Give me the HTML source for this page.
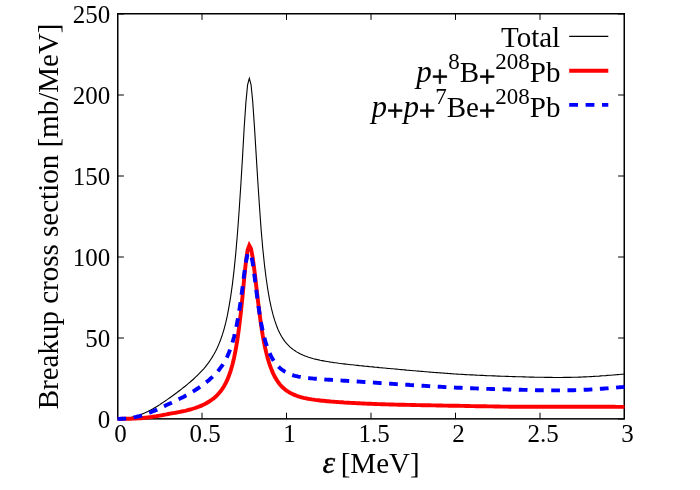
<!DOCTYPE html>
<html><head><meta charset="utf-8"><title>Breakup cross section</title>
<style>html,body{margin:0;padding:0;background:#fff;overflow:hidden}svg{display:block;will-change:transform}text{font-family:"Liberation Serif",serif;fill:#000}</style>
</head><body>
<svg width="700" height="490" viewBox="0 0 700 490">
<rect x="0" y="0" width="700" height="490" fill="#fff"/>
<path d="M117.50,418.9v-6.2M117.50,13.7v6.2M202.00,418.9v-6.2M202.00,13.7v6.2M286.50,418.9v-6.2M286.50,13.7v6.2M371.00,418.9v-6.2M371.00,13.7v6.2M455.50,418.9v-6.2M455.50,13.7v6.2M540.00,418.9v-6.2M540.00,13.7v6.2M624.50,418.9v-6.2M624.50,13.7v6.2M117.7,419.00h6.2M624.3,419.00h-6.2M117.7,338.00h6.2M624.3,338.00h-6.2M117.7,257.00h6.2M624.3,257.00h-6.2M117.7,176.00h6.2M624.3,176.00h-6.2M117.7,95.00h6.2M624.3,95.00h-6.2M117.7,14.00h6.2M624.3,14.00h-6.2" stroke="#000" stroke-width="1" fill="none"/>
<rect x="117.75" y="13.75" width="506.5" height="405.1" fill="none" stroke="#000" stroke-width="1.5"/>
<text x="120.5" y="441.7" font-size="25" text-anchor="middle" font-family="Liberation Serif, serif">0</text>
<text x="205.0" y="441.7" font-size="25" text-anchor="middle" font-family="Liberation Serif, serif">0.5</text>
<text x="289.5" y="441.7" font-size="25" text-anchor="middle" font-family="Liberation Serif, serif">1</text>
<text x="374.0" y="441.7" font-size="25" text-anchor="middle" font-family="Liberation Serif, serif">1.5</text>
<text x="458.5" y="441.7" font-size="25" text-anchor="middle" font-family="Liberation Serif, serif">2</text>
<text x="543.0" y="441.7" font-size="25" text-anchor="middle" font-family="Liberation Serif, serif">2.5</text>
<text x="627.5" y="441.7" font-size="25" text-anchor="middle" font-family="Liberation Serif, serif">3</text>
<text x="110.2" y="427.6" font-size="25" text-anchor="end" font-family="Liberation Serif, serif">0</text>
<text x="110.2" y="346.6" font-size="25" text-anchor="end" font-family="Liberation Serif, serif">50</text>
<text x="110.2" y="265.6" font-size="25" text-anchor="end" font-family="Liberation Serif, serif">100</text>
<text x="110.2" y="184.6" font-size="25" text-anchor="end" font-family="Liberation Serif, serif">150</text>
<text x="110.2" y="103.6" font-size="25" text-anchor="end" font-family="Liberation Serif, serif">200</text>
<text x="110.2" y="22.6" font-size="25" text-anchor="end" font-family="Liberation Serif, serif">250</text>
<polyline points="117.5,418.9 119.2,418.8 120.9,418.7 122.6,418.6 124.3,418.4 126.0,418.2 127.6,418.0 129.3,417.7 131.0,417.4 132.7,417.0 134.4,416.6 136.1,416.2 137.8,415.7 139.5,415.1 141.2,414.5 142.8,413.8 144.5,413.1 146.2,412.3 147.9,411.5 149.6,410.6 151.3,409.7 153.0,408.8 154.7,407.8 156.4,406.8 158.1,405.7 159.8,404.6 161.4,403.5 163.1,402.4 164.8,401.3 166.5,400.1 168.2,398.9 169.9,397.7 171.6,396.5 173.3,395.3 175.0,394.0 176.7,392.8 178.3,391.5 180.0,390.2 181.7,388.9 183.4,387.5 185.1,386.2 186.8,384.8 188.5,383.4 190.2,382.0 191.9,380.5 193.6,379.0 195.2,377.4 196.9,375.8 198.6,374.2 200.3,372.4 202.0,370.6 203.7,368.8 205.4,366.8 207.1,364.6 208.8,362.4 210.4,360.0 212.1,357.4 213.8,354.5 215.5,351.4 217.2,348.0 218.9,344.1 220.6,339.8 222.3,334.9 224.0,329.3 225.7,322.9 227.4,315.4 229.0,306.7 230.7,296.4 232.4,284.3 234.1,269.9 235.8,252.9 237.5,233.0 239.2,209.8 240.9,183.7 242.6,155.6 244.2,127.3 245.9,102.4 247.6,84.8 249.3,78.3 251.0,84.3 252.7,101.4 254.4,125.9 256.1,153.6 257.8,181.3 259.5,206.8 261.1,229.4 262.8,248.7 264.5,265.1 266.2,278.8 267.9,290.2 269.6,299.8 271.3,307.9 273.0,314.7 274.7,320.4 276.4,325.3 278.0,329.5 279.7,333.1 281.4,336.2 283.1,338.9 284.8,341.3 286.5,343.4 288.2,345.2 289.9,346.9 291.6,348.3 293.3,349.6 295.0,350.8 296.6,351.9 298.3,352.8 300.0,353.7 301.7,354.5 303.4,355.3 305.1,356.0 306.8,356.6 308.5,357.2 310.2,357.7 311.9,358.2 313.5,358.7 315.2,359.1 316.9,359.5 318.6,359.9 320.3,360.3 322.0,360.6 323.7,360.9 325.4,361.2 327.1,361.5 328.8,361.8 330.4,362.1 332.1,362.3 333.8,362.6 335.5,362.8 337.2,363.0 338.9,363.3 340.6,363.5 342.3,363.7 344.0,363.9 345.6,364.1 347.3,364.3 349.0,364.5 350.7,364.7 352.4,364.8 354.1,365.0 355.8,365.2 357.5,365.4 359.2,365.6 360.9,365.7 362.5,365.9 364.2,366.1 365.9,366.2 367.6,366.4 369.3,366.6 371.0,366.7 372.7,366.9 374.4,367.1 376.1,367.2 377.8,367.4 379.4,367.6 381.1,367.7 382.8,367.9 384.5,368.0 386.2,368.2 387.9,368.4 389.6,368.5 391.3,368.7 393.0,368.8 394.7,369.0 396.3,369.1 398.0,369.3 399.7,369.5 401.4,369.6 403.1,369.8 404.8,369.9 406.5,370.1 408.2,370.2 409.9,370.4 411.6,370.5 413.2,370.7 414.9,370.8 416.6,371.0 418.3,371.1 420.0,371.3 421.7,371.4 423.4,371.5 425.1,371.7 426.8,371.8 428.5,372.0 430.2,372.1 431.8,372.2 433.5,372.4 435.2,372.5 436.9,372.6 438.6,372.8 440.3,372.9 442.0,373.0 443.7,373.1 445.4,373.3 447.1,373.4 448.7,373.5 450.4,373.6 452.1,373.7 453.8,373.9 455.5,374.0 457.2,374.1 458.9,374.2 460.6,374.3 462.3,374.4 463.9,374.5 465.6,374.6 467.3,374.7 469.0,374.8 470.7,374.9 472.4,374.9 474.1,375.0 475.8,375.1 477.5,375.2 479.2,375.3 480.8,375.4 482.5,375.4 484.2,375.5 485.9,375.6 487.6,375.7 489.3,375.7 491.0,375.8 492.7,375.9 494.4,375.9 496.1,376.0 497.8,376.1 499.4,376.1 501.1,376.2 502.8,376.2 504.5,376.3 506.2,376.4 507.9,376.4 509.6,376.5 511.3,376.5 513.0,376.6 514.7,376.6 516.3,376.7 518.0,376.7 519.7,376.8 521.4,376.8 523.1,376.9 524.8,376.9 526.5,377.0 528.2,377.0 529.9,377.1 531.5,377.1 533.2,377.1 534.9,377.2 536.6,377.2 538.3,377.2 540.0,377.3 541.7,377.3 543.4,377.3 545.1,377.4 546.8,377.4 548.5,377.4 550.1,377.4 551.8,377.4 553.5,377.5 555.2,377.5 556.9,377.5 558.6,377.5 560.3,377.5 562.0,377.5 563.7,377.4 565.3,377.4 567.0,377.4 568.7,377.4 570.4,377.4 572.1,377.3 573.8,377.3 575.5,377.2 577.2,377.2 578.9,377.1 580.6,377.1 582.2,377.0 583.9,376.9 585.6,376.9 587.3,376.8 589.0,376.7 590.7,376.6 592.4,376.5 594.1,376.4 595.8,376.3 597.5,376.2 599.2,376.1 600.8,375.9 602.5,375.8 604.2,375.7 605.9,375.6 607.6,375.4 609.3,375.3 611.0,375.2 612.7,375.0 614.4,374.9 616.0,374.7 617.7,374.6 619.4,374.5 621.1,374.3 622.8,374.2 624.5,374.0" fill="none" stroke="#000" stroke-width="1.1" stroke-linejoin="miter"/>
<polyline points="117.5,418.9 119.2,418.9 120.9,418.9 122.6,418.8 124.3,418.8 126.0,418.8 127.6,418.8 129.3,418.7 131.0,418.7 132.7,418.6 134.4,418.6 136.1,418.5 137.8,418.4 139.5,418.3 141.2,418.2 142.8,418.0 144.5,417.8 146.2,417.7 147.9,417.4 149.6,417.2 151.3,417.0 153.0,416.7 154.7,416.4 156.4,416.2 158.1,415.9 159.8,415.6 161.4,415.3 163.1,415.0 164.8,414.7 166.5,414.4 168.2,414.0 169.9,413.7 171.6,413.4 173.3,413.1 175.0,412.8 176.7,412.5 178.3,412.2 180.0,411.8 181.7,411.5 183.4,411.1 185.1,410.8 186.8,410.4 188.5,409.9 190.2,409.5 191.9,409.0 193.6,408.5 195.2,408.0 196.9,407.4 198.6,406.8 200.3,406.1 202.0,405.4 203.7,404.6 205.4,403.7 207.1,402.8 208.8,401.8 210.4,400.7 212.1,399.5 213.8,398.2 215.5,396.8 217.2,395.1 218.9,393.3 220.6,391.3 222.3,388.9 224.0,386.3 225.7,383.2 227.4,379.7 229.0,375.5 230.7,370.6 232.4,364.7 234.1,357.7 235.8,349.2 237.5,338.9 239.2,326.6 240.9,312.1 242.6,295.6 244.2,278.2 245.9,261.9 247.6,250.0 249.3,245.5 251.0,248.6 252.7,257.5 254.4,270.3 256.1,284.8 257.8,299.4 259.5,313.1 261.1,325.2 262.8,335.8 264.5,344.8 266.2,352.4 267.9,358.9 269.6,364.4 271.3,369.1 273.0,373.1 274.7,376.5 276.4,379.4 278.0,382.0 279.7,384.2 281.4,386.1 283.1,387.8 284.8,389.3 286.5,390.6 288.2,391.7 289.9,392.7 291.6,393.6 293.3,394.4 295.0,395.1 296.6,395.8 298.3,396.4 300.0,396.9 301.7,397.3 303.4,397.8 305.1,398.1 306.8,398.5 308.5,398.8 310.2,399.1 311.9,399.4 313.5,399.6 315.2,399.9 316.9,400.1 318.6,400.3 320.3,400.5 322.0,400.7 323.7,400.8 325.4,401.0 327.1,401.2 328.8,401.3 330.4,401.5 332.1,401.6 333.8,401.7 335.5,401.9 337.2,402.0 338.9,402.1 340.6,402.2 342.3,402.3 344.0,402.5 345.6,402.6 347.3,402.7 349.0,402.8 350.7,402.9 352.4,403.0 354.1,403.0 355.8,403.1 357.5,403.2 359.2,403.3 360.9,403.4 362.5,403.5 364.2,403.5 365.9,403.6 367.6,403.7 369.3,403.8 371.0,403.8 372.7,403.9 374.4,404.0 376.1,404.0 377.8,404.1 379.4,404.1 381.1,404.2 382.8,404.2 384.5,404.3 386.2,404.4 387.9,404.4 389.6,404.5 391.3,404.5 393.0,404.5 394.7,404.6 396.3,404.6 398.0,404.7 399.7,404.7 401.4,404.8 403.1,404.8 404.8,404.8 406.5,404.9 408.2,404.9 409.9,404.9 411.6,405.0 413.2,405.0 414.9,405.0 416.6,405.1 418.3,405.1 420.0,405.1 421.7,405.2 423.4,405.2 425.1,405.2 426.8,405.3 428.5,405.3 430.2,405.3 431.8,405.4 433.5,405.4 435.2,405.4 436.9,405.5 438.6,405.5 440.3,405.5 442.0,405.5 443.7,405.6 445.4,405.6 447.1,405.6 448.7,405.7 450.4,405.7 452.1,405.7 453.8,405.8 455.5,405.8 457.2,405.8 458.9,405.8 460.6,405.9 462.3,405.9 463.9,405.9 465.6,406.0 467.3,406.0 469.0,406.0 470.7,406.1 472.4,406.1 474.1,406.1 475.8,406.2 477.5,406.2 479.2,406.2 480.8,406.2 482.5,406.3 484.2,406.3 485.9,406.3 487.6,406.4 489.3,406.4 491.0,406.4 492.7,406.4 494.4,406.5 496.1,406.5 497.8,406.5 499.4,406.5 501.1,406.6 502.8,406.6 504.5,406.6 506.2,406.6 507.9,406.6 509.6,406.7 511.3,406.7 513.0,406.7 514.7,406.7 516.3,406.7 518.0,406.7 519.7,406.7 521.4,406.7 523.1,406.8 524.8,406.8 526.5,406.8 528.2,406.8 529.9,406.8 531.5,406.8 533.2,406.8 534.9,406.8 536.6,406.8 538.3,406.8 540.0,406.8 541.7,406.8 543.4,406.8 545.1,406.8 546.8,406.7 548.5,406.7 550.1,406.7 551.8,406.7 553.5,406.7 555.2,406.7 556.9,406.7 558.6,406.7 560.3,406.7 562.0,406.7 563.7,406.7 565.3,406.7 567.0,406.7 568.7,406.7 570.4,406.7 572.1,406.7 573.8,406.7 575.5,406.7 577.2,406.7 578.9,406.7 580.6,406.7 582.2,406.7 583.9,406.7 585.6,406.7 587.3,406.7 589.0,406.7 590.7,406.7 592.4,406.7 594.1,406.7 595.8,406.7 597.5,406.7 599.2,406.7 600.8,406.7 602.5,406.7 604.2,406.8 605.9,406.8 607.6,406.8 609.3,406.8 611.0,406.8 612.7,406.8 614.4,406.8 616.0,406.9 617.7,406.9 619.4,406.9 621.1,406.9 622.8,406.9 624.5,406.9" fill="none" stroke="#ff0000" stroke-width="3.9" stroke-linejoin="miter" stroke-miterlimit="10"/>
<polyline points="117.5,418.9 119.2,418.9 120.9,418.8 122.6,418.7 124.3,418.6 126.0,418.5 127.6,418.3 129.3,418.1 131.0,417.8 132.7,417.5 134.4,417.2 136.1,416.9 137.8,416.5 139.5,416.1 141.2,415.6 142.8,415.1 144.5,414.6 146.2,414.0 147.9,413.4 149.6,412.7 151.3,412.0 153.0,411.3 154.7,410.6 156.4,409.9 158.1,409.1 159.8,408.3 161.4,407.5 163.1,406.7 164.8,405.9 166.5,405.1 168.2,404.3 169.9,403.5 171.6,402.7 173.3,401.9 175.0,401.1 176.7,400.3 178.3,399.4 180.0,398.6 181.7,397.7 183.4,396.9 185.1,396.0 186.8,395.1 188.5,394.1 190.2,393.2 191.9,392.2 193.6,391.2 195.2,390.1 196.9,389.0 198.6,387.9 200.3,386.7 202.0,385.5 203.7,384.3 205.4,383.0 207.1,381.6 208.8,380.2 210.4,378.7 212.1,377.2 213.8,375.5 215.5,373.8 217.2,371.9 218.9,369.9 220.6,367.7 222.3,365.3 224.0,362.6 225.7,359.7 227.4,356.3 229.0,352.4 230.7,348.0 232.4,342.8 234.1,336.7 235.8,329.5 237.5,321.0 239.2,311.1 240.9,299.6 242.6,286.9 244.2,273.9 245.9,262.1 247.6,253.6 249.3,250.5" fill="none" stroke="#0000ff" stroke-width="3.9" stroke-dasharray="8.699 7.513" stroke-linejoin="miter"/>
<polyline points="249.3,250.5 251.0,253.9 252.7,262.9 254.4,275.3 256.1,288.8 257.8,301.7 259.5,313.3 261.1,323.1 262.8,331.5 264.5,338.4 266.2,344.2 267.9,349.1 269.6,353.2 271.3,356.6 273.0,359.6 274.7,362.1 276.4,364.3 278.0,366.2 279.7,367.9 281.4,369.3 283.1,370.5 284.8,371.6 286.5,372.5 288.2,373.4 289.9,374.1 291.6,374.7 293.3,375.3 295.0,375.8 296.6,376.2 298.3,376.6 300.0,376.9 301.7,377.2 303.4,377.5 305.1,377.7 306.8,377.9 308.5,378.1 310.2,378.3 311.9,378.4 313.5,378.6 315.2,378.7 316.9,378.8 318.6,379.0 320.3,379.1 322.0,379.2 323.7,379.3 325.4,379.5 327.1,379.6 328.8,379.7 330.4,379.8 332.1,379.9 333.8,380.0 335.5,380.1 337.2,380.2 338.9,380.3 340.6,380.4 342.3,380.6 344.0,380.7 345.6,380.8 347.3,380.9 349.0,381.0 350.7,381.1 352.4,381.2 354.1,381.3 355.8,381.4 357.5,381.5 359.2,381.6 360.9,381.7 362.5,381.9 364.2,382.0 365.9,382.1 367.6,382.2 369.3,382.3 371.0,382.4 372.7,382.5 374.4,382.6 376.1,382.7 377.8,382.9 379.4,383.0 381.1,383.1 382.8,383.2 384.5,383.3 386.2,383.4 387.9,383.5 389.6,383.6 391.3,383.7 393.0,383.9 394.7,384.0 396.3,384.1 398.0,384.2 399.7,384.3 401.4,384.4 403.1,384.5 404.8,384.6 406.5,384.7 408.2,384.8 409.9,385.0 411.6,385.1 413.2,385.2 414.9,385.3 416.6,385.4 418.3,385.5 420.0,385.6 421.7,385.7 423.4,385.8 425.1,385.9 426.8,386.0 428.5,386.1 430.2,386.2 431.8,386.3 433.5,386.4 435.2,386.5 436.9,386.6 438.6,386.7 440.3,386.8 442.0,386.9 443.7,387.0 445.4,387.1 447.1,387.2 448.7,387.2 450.4,387.3 452.1,387.4 453.8,387.5 455.5,387.6 457.2,387.7 458.9,387.7 460.6,387.8 462.3,387.9 463.9,388.0 465.6,388.0 467.3,388.1 469.0,388.2 470.7,388.2 472.4,388.3 474.1,388.4 475.8,388.4 477.5,388.5 479.2,388.6 480.8,388.6 482.5,388.7 484.2,388.7 485.9,388.8 487.6,388.9 489.3,388.9 491.0,389.0 492.7,389.0 494.4,389.1 496.1,389.1 497.8,389.2 499.4,389.2 501.1,389.3 502.8,389.3 504.5,389.4 506.2,389.4 507.9,389.5 509.6,389.5 511.3,389.6 513.0,389.6 514.7,389.6 516.3,389.7 518.0,389.7 519.7,389.8 521.4,389.8 523.1,389.9 524.8,389.9 526.5,389.9 528.2,390.0 529.9,390.0 531.5,390.1 533.2,390.1 534.9,390.1 536.6,390.2 538.3,390.2 540.0,390.2 541.7,390.3 543.4,390.3 545.1,390.3 546.8,390.3 548.5,390.3 550.1,390.4 551.8,390.4 553.5,390.4 555.2,390.4 556.9,390.4 558.6,390.4 560.3,390.4 562.0,390.4 563.7,390.4 565.3,390.3 567.0,390.3 568.7,390.3 570.4,390.3 572.1,390.2 573.8,390.2 575.5,390.1 577.2,390.1 578.9,390.0 580.6,390.0 582.2,389.9 583.9,389.8 585.6,389.7 587.3,389.7 589.0,389.6 590.7,389.5 592.4,389.4 594.1,389.3 595.8,389.2 597.5,389.0 599.2,388.9 600.8,388.8 602.5,388.7 604.2,388.5 605.9,388.4 607.6,388.3 609.3,388.1 611.0,388.0 612.7,387.8 614.4,387.7 616.0,387.6 617.7,387.4 619.4,387.3 621.1,387.1 622.8,387.0 624.5,386.8" fill="none" stroke="#0000ff" stroke-width="3.9" stroke-dasharray="8.711 7.523" stroke-dashoffset="8.584" stroke-linejoin="miter"/>
<text x="560.2" y="46.5" font-size="29" text-anchor="end" font-family="Liberation Serif, serif">Total</text>
<text x="560.5" y="82.4" font-size="29" text-anchor="end" font-family="Liberation Serif, serif"><tspan dy="0" font-style="italic" font-size="31">p</tspan><tspan dy="3.3" stroke="#000" stroke-width="0.8">+</tspan><tspan dy="-16.60" font-size="23">8</tspan><tspan dy="13.3">B</tspan><tspan dy="3.3" stroke="#000" stroke-width="0.8">+</tspan><tspan dy="-16.60" font-size="23">208</tspan><tspan dy="13.3">Pb</tspan></text>
<text x="560.5" y="117" font-size="29" text-anchor="end" font-family="Liberation Serif, serif"><tspan dy="0" font-style="italic" font-size="31">p</tspan><tspan dy="3.3" stroke="#000" stroke-width="0.8">+</tspan><tspan dy="-3.3" font-style="italic" font-size="31">p</tspan><tspan dy="3.3" stroke="#000" stroke-width="0.8">+</tspan><tspan dy="-16.60" font-size="23">7</tspan><tspan dy="13.3">Be</tspan><tspan dy="3.3" stroke="#000" stroke-width="0.8">+</tspan><tspan dy="-16.60" font-size="23">208</tspan><tspan dy="13.3">Pb</tspan></text>
<path d="M569.2,36.4H608.3" stroke="#000" stroke-width="1.1"/>
<path d="M569.2,70.7H608.3" stroke="#ff0000" stroke-width="3.9"/>
<path d="M569.2,104.9H608.3" stroke="#0000ff" stroke-width="3.9" stroke-dasharray="8.8 7.6"/>
<text transform="translate(57.5,216.4) rotate(-90)" font-size="29" text-anchor="middle" font-family="Liberation Serif, serif">Breakup cross section [mb/MeV]</text>
<text x="322.4" y="473.3" font-size="32" font-style="italic" stroke="#000" stroke-width="0.35" font-family="Liberation Serif, serif">ε</text>
<text x="340.7" y="473.3" font-size="29" font-family="Liberation Serif, serif">[MeV]</text>
</svg>
</body></html>
